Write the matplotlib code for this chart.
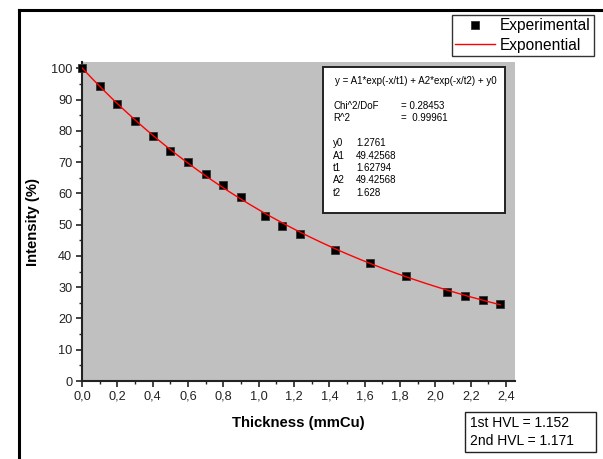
import numpy as np
import matplotlib
matplotlib.use("Agg")
import matplotlib.pyplot as plt
from matplotlib.ticker import MultipleLocator, FuncFormatter
from matplotlib.patches import Rectangle
from matplotlib.lines import Line2D

plt.rcParams['font.family'] = ['Liberation Sans', 'DejaVu Sans']

# Measured transmission through copper filters
thickness = [0.0, 0.1, 0.2, 0.3, 0.4, 0.5, 0.6, 0.7, 0.8, 0.9,
             1.035, 1.133, 1.232, 1.432, 1.632, 1.834, 2.067, 2.167, 2.268, 2.366]
intensity = [100.0, 94.2, 88.6, 83.1, 78.2, 73.7, 70.1, 66.1, 62.6, 58.8,
             52.8, 49.7, 47.0, 41.9, 37.6, 33.6, 28.6, 27.3, 26.0, 24.7]

# Second-order exponential decay fit parameters
fit_y0 = 1.2761
fit_A1 = 49.42568
fit_t1 = 1.62794
fit_A2 = 49.42568
fit_t2 = 1.628
chi2_dof = 0.28453
r_squared = 0.99961

hvl_first = 1.152
hvl_second = 1.171

W, H = 603, 459
fig = plt.figure(figsize=(W / 100, H / 100), dpi=100)
fig.patch.set_facecolor('white')


def fx(px):
    return px / W


def fy(py):
    return 1 - py / H


ax_l, ax_r, ax_t, ax_b = 82, 515, 62, 381
ax = fig.add_axes([fx(ax_l), fy(ax_b), fx(ax_r) - fx(ax_l), fy(ax_t) - fy(ax_b)])
ax.set_facecolor('#C0C0C0')

xfit = np.linspace(0, thickness[-1], 200)
yfit = fit_y0 + fit_A1 * np.exp(-xfit / fit_t1) + fit_A2 * np.exp(-xfit / fit_t2)

ax.plot(thickness, intensity, linestyle='none', marker='s', markersize=6.2,
        markerfacecolor='black', markeredgecolor='#333333', markeredgewidth=0.6,
        label='Experimental', zorder=3, clip_on=False)
ax.plot(xfit, yfit, color='red', linewidth=1.0, label='Exponential', zorder=4)

ax.set_xlim(0, 2.45)
ax.set_ylim(0, 102)

for side in ('top', 'right'):
    ax.spines[side].set_visible(False)
for side in ('left', 'bottom'):
    ax.spines[side].set_linewidth(1.5)
    ax.spines[side].set_color('#222222')

ax.xaxis.set_major_locator(MultipleLocator(0.2))
ax.xaxis.set_minor_locator(MultipleLocator(0.1))
ax.yaxis.set_major_locator(MultipleLocator(10))
ax.yaxis.set_minor_locator(MultipleLocator(5))
ax.xaxis.set_major_formatter(FuncFormatter(lambda v, p: f"{v:.1f}".replace('.', ',')))
ax.yaxis.set_major_formatter(FuncFormatter(lambda v, p: f"{v:.0f}"))
ax.tick_params(which='major', direction='out', length=4, width=1.2,
               labelsize=9.2, colors='#222222', pad=3)
ax.tick_params(which='minor', direction='out', length=2.5, width=1.0, colors='#222222')

ax.set_xlabel('Thickness (mmCu)', fontsize=10.7, fontweight='bold', va='center')
ax.set_ylabel('Intensity (%)', fontsize=10.7, fontweight='bold', va='center')
ax.xaxis.set_label_coords(0.5, (ax_b - 423) / (ax_b - ax_t))
ax.yaxis.set_label_coords((33 - ax_l) / (ax_r - ax_l), 0.5)

# Page frame lines
fig.add_artist(Line2D([fx(19), fx(19)], [fy(10), 0], transform=fig.transFigure,
                      color='black', linewidth=2.2))
fig.add_artist(Line2D([fx(19), 1], [fy(10), fy(10)], transform=fig.transFigure,
                      color='black', linewidth=2.2))

# Legend
leg = fig.legend(loc='upper right', bbox_to_anchor=(fx(594), fy(15)),
                 fontsize=11.2, frameon=True, fancybox=False, borderpad=0.2,
                 handlelength=2.6, handletextpad=0.3, labelspacing=0.3,
                 borderaxespad=0)
leg.get_frame().set_edgecolor('black')
leg.get_frame().set_linewidth(1.0)

# Fit results box
fig.add_artist(Rectangle((fx(323), fy(213)), fx(505) - fx(323), fy(67) - fy(213),
                         transform=fig.transFigure, facecolor='white',
                         edgecolor='#222222', linewidth=1.4, zorder=5))
fs = 7.0
fig.text(fx(335), fy(81), 'y = A1*exp(-x/t1) + A2*exp(-x/t2) + y0', fontsize=fs,
         va='center', zorder=6)
fig.text(fx(333), fy(106), 'Chi^2/DoF', fontsize=fs, va='center', zorder=6)
fig.text(fx(401), fy(106), f'= {chi2_dof:.5f}', fontsize=fs, va='center', zorder=6)
fig.text(fx(333), fy(118), 'R^2', fontsize=fs, va='center', zorder=6)
fig.text(fx(401), fy(118), f'=  {r_squared:.5f}', fontsize=fs, va='center', zorder=6)
params = [('y0', f'{fit_y0}'), ('A1', f'{fit_A1}'), ('t1', f'{fit_t1}'),
          ('A2', f'{fit_A2}'), ('t2', f'{fit_t2}')]
for i, (name, val) in enumerate(params):
    yy = 143.5 + i * 12.3
    fig.text(fx(333), fy(yy), name, fontsize=fs, va='center', zorder=6)
    fig.text(fx(356), fy(yy), val, fontsize=fs, va='center', zorder=6)

# Half-value layer box
fig.add_artist(Rectangle((fx(465), fy(452)), fx(596) - fx(465), fy(412) - fy(452),
                         transform=fig.transFigure, facecolor='white',
                         edgecolor='#222222', linewidth=1.0, zorder=5))
fig.text(fx(470), fy(423), f'1st HVL = {hvl_first}', fontsize=10, va='center', zorder=6)
fig.text(fx(470), fy(441), f'2nd HVL = {hvl_second}', fontsize=10, va='center', zorder=6)

fig.savefig('out.png', dpi=100)
